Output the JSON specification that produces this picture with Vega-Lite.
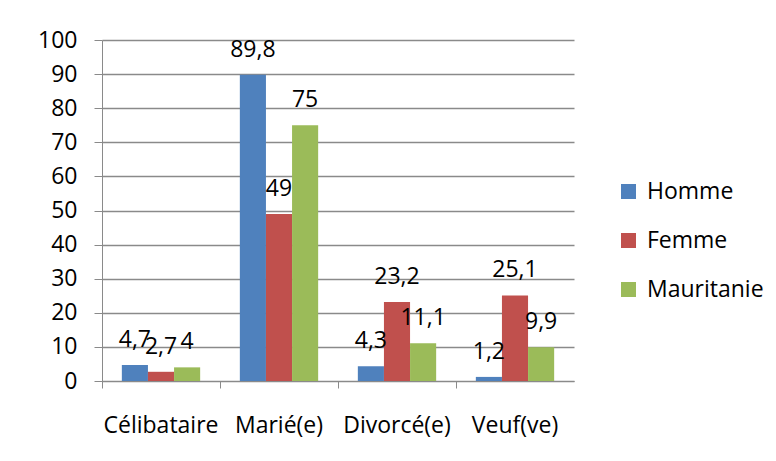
{
  "$schema": "https://vega.github.io/schema/vega-lite/v6.json",
  "width": 472,
  "height": 341,
  "autosize": "none",
  "padding": {"left": 102, "top": 40, "right": 202, "bottom": 80},
  "background": "white",
  "config": {
    "font": "Open Sans",
    "view": {"stroke": null},
    "locale": {"number": {"decimal": ",", "thousands": " ", "grouping": [3], "currency": ["", " €"]}}
  },
  "data": {
    "values": [
      {"statut": "Célibataire", "groupe": "Homme", "valeur": 4.7},
      {"statut": "Célibataire", "groupe": "Femme", "valeur": 2.7},
      {"statut": "Célibataire", "groupe": "Mauritanie", "valeur": 4},
      {"statut": "Marié(e)", "groupe": "Homme", "valeur": 89.8},
      {"statut": "Marié(e)", "groupe": "Femme", "valeur": 49},
      {"statut": "Marié(e)", "groupe": "Mauritanie", "valeur": 75},
      {"statut": "Divorcé(e)", "groupe": "Homme", "valeur": 4.3},
      {"statut": "Divorcé(e)", "groupe": "Femme", "valeur": 23.2},
      {"statut": "Divorcé(e)", "groupe": "Mauritanie", "valeur": 11.1},
      {"statut": "Veuf(ve)", "groupe": "Homme", "valeur": 1.2},
      {"statut": "Veuf(ve)", "groupe": "Femme", "valeur": 25.1},
      {"statut": "Veuf(ve)", "groupe": "Mauritanie", "valeur": 9.9}
    ]
  },
  "encoding": {
    "x": {
      "field": "statut",
      "type": "nominal",
      "sort": ["Célibataire", "Marié(e)", "Divorcé(e)", "Veuf(ve)"],
      "scale": {"paddingInner": 0, "paddingOuter": 0},
      "axis": {
        "title": null,
        "labelAngle": 0,
        "bandPosition": 0,
        "tickSize": 7,
        "tickColor": "#8a8a8a",
        "domainColor": "#8a8a8a",
        "labelFontSize": 23,
        "labelColor": "#000000",
        "labelPadding": 26,
        "grid": false
      }
    },
    "xOffset": {
      "field": "groupe",
      "sort": ["Homme", "Femme", "Mauritanie"],
      "scale": {"paddingInner": 0, "paddingOuter": 0.76}
    },
    "y": {
      "field": "valeur",
      "type": "quantitative",
      "scale": {"domain": [0, 100]},
      "axis": {
        "title": null,
        "values": [0, 10, 20, 30, 40, 50, 60, 70, 80, 90, 100],
        "grid": true,
        "gridColor": "#8a8a8a",
        "gridWidth": 1.3,
        "domainColor": "#8a8a8a",
        "tickColor": "#8a8a8a",
        "tickSize": 8,
        "labelFontSize": 23,
        "labelColor": "#000000",
        "labelPadding": 17
      }
    }
  },
  "layer": [
    {
      "mark": {"type": "bar"},
      "encoding": {
        "color": {
          "field": "groupe",
          "type": "nominal",
          "scale": {"domain": ["Homme", "Femme", "Mauritanie"], "range": ["#4F81BD", "#C0504D", "#9BBB59"]},
          "legend": {
            "title": null,
            "orient": "none",
            "legendX": 515,
            "legendY": 140,
            "padding": 0,
            "symbolType": "square",
            "symbolSize": 225,
            "symbolStrokeWidth": 0,
            "labelFontSize": 23,
            "labelColor": "#000000",
            "labelOffset": 7,
            "rowPadding": 25
          }
        }
      }
    },
    {
      "mark": {"type": "text", "dy": -18, "baseline": "alphabetic", "fontSize": 23, "color": "#000000"},
      "encoding": {"text": {"field": "valeur", "type": "quantitative", "format": ".1~f"}}
    }
  ]
}
